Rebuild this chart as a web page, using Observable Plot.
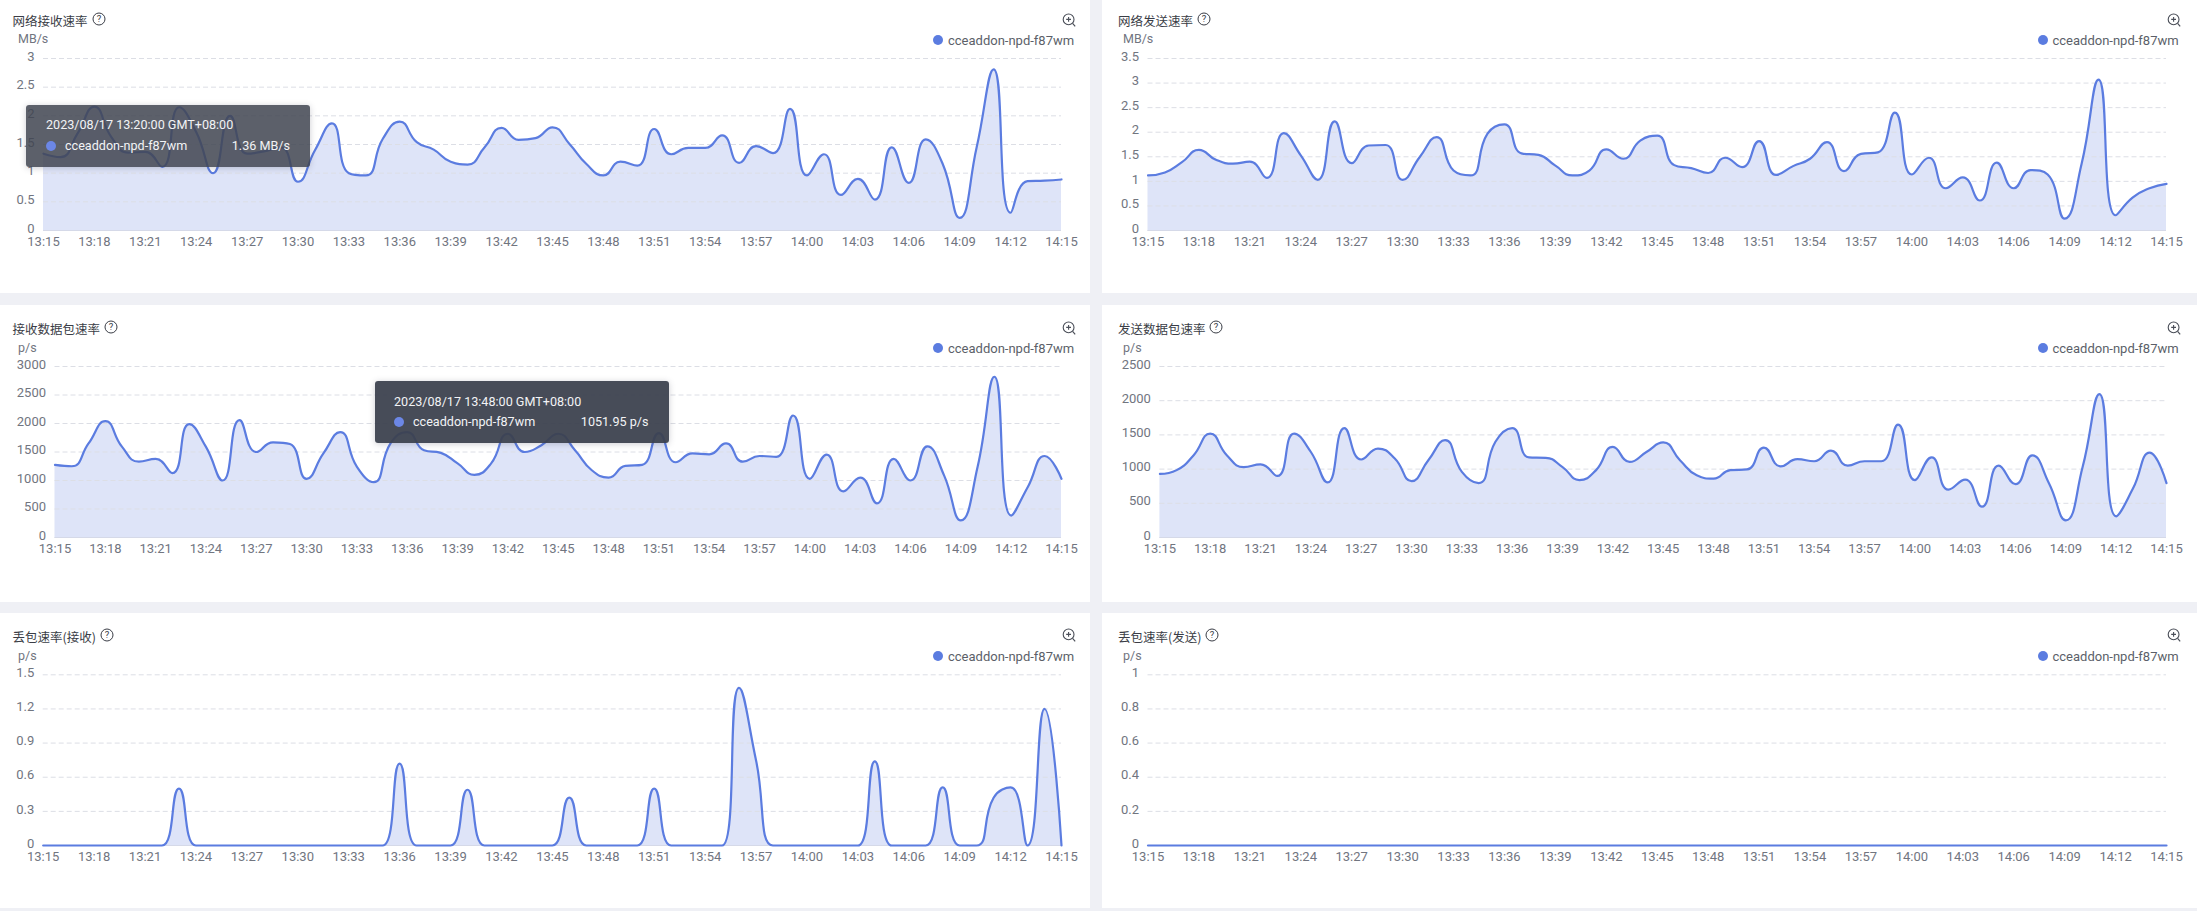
<!DOCTYPE html>
<html>
<head>
<meta charset="utf-8">
<script src="https://cdn.jsdelivr.net/npm/d3@7"></script>
<script src="https://cdn.jsdelivr.net/npm/@observablehq/plot@0.6"></script>
<style>
html,body{margin:0;padding:0;background:#eff0f5;width:2197px;height:911px;overflow:hidden;font-family:Roboto,"Noto Sans CJK SC",sans-serif}
#root{position:relative;width:2197px;height:911px}
.panel{position:absolute;background:#fff}
.panel svg.plot{position:absolute;left:0;top:0;display:block;background:transparent}
.abs{position:absolute;white-space:nowrap;line-height:1}
.title{font:12.5px "Noto Sans CJK SC",sans-serif;color:#3a3d46;transform:translateY(-50%)}
.unit{font:12.5px Roboto,sans-serif;color:#71757f;transform:translateY(-50%)}
.legend{font:13px Roboto,sans-serif;color:#5b5f69;transform:translateY(-50%)}
.dot{width:10px;height:10px;border-radius:50%;background:#5b7ce0;transform:translate(-50%,-50%)}
.tip{position:absolute;border-radius:3px;box-shadow:0 1px 6px rgba(60,60,80,.25);color:#f2f3f5;font:12.6px Roboto,sans-serif}
</style>
</head>
<body>
<div id="root"></div>
<script>
const minutesStart = "2023-08-17T13:15:00Z";
const minutesEnd = "2023-08-17T14:15:00Z";
const xTickLabels = ["13:15","13:18","13:21","13:24","13:27","13:30","13:33","13:36","13:39","13:42","13:45","13:48","13:51","13:54","13:57","14:00","14:03","14:06","14:09","14:12","14:15"];

const netIn = [1.34,1.28,1.69,2.16,1.63,1.36,1.37,1.11,2.15,1.72,1.0,2.0,1.34,1.38,1.45,0.85,1.4,1.87,1.0,0.96,1.6,1.9,1.54,1.41,1.2,1.15,1.45,1.79,1.58,1.61,1.8,1.51,1.16,0.96,1.2,1.13,1.77,1.33,1.44,1.44,1.66,1.18,1.47,1.35,2.12,0.96,1.33,0.62,0.9,0.54,1.45,0.83,1.59,1.16,0.22,1.45,2.81,0.31,0.86,0.87,0.89];
const netOut = [1.12,1.18,1.39,1.64,1.44,1.36,1.40,1.07,1.98,1.53,1.03,2.22,1.37,1.73,1.74,1.03,1.49,1.90,1.22,1.12,1.97,2.16,1.57,1.54,1.32,1.12,1.22,1.65,1.46,1.83,1.93,1.33,1.27,1.17,1.48,1.29,1.82,1.13,1.31,1.46,1.80,1.21,1.56,1.59,2.40,1.14,1.48,0.86,1.08,0.61,1.38,0.86,1.23,1.14,0.24,1.36,3.07,0.31,0.67,0.86,0.95];
const pktIn = [1275,1250,1650,2040,1590,1330,1380,1130,1990,1590,1000,2060,1500,1670,1640,1030,1475,1850,1240,970,1650,1850,1530,1485,1300,1100,1300,1820,1500,1620,1820,1530,1180,1052,1257,1275,1830,1320,1475,1460,1650,1330,1430,1415,2140,1030,1455,810,1050,600,1380,1000,1600,1090,300,1240,2820,385,890,1430,1030];
const pktOut = [930,985,1200,1520,1200,1030,1070,900,1520,1250,805,1600,1140,1300,1155,825,1130,1425,960,795,1400,1600,1170,1165,1030,840,985,1325,1105,1250,1390,1130,910,860,985,995,1315,1040,1145,1115,1270,1050,1115,1115,1650,840,1170,700,845,450,1050,780,1200,790,250,1030,2095,310,715,1240,795];
const dropIn = [0,0,0,0,0,0,0,0,0.5,0,0,0,0,0,0,0,0,0,0,0,0,0.72,0,0,0,0.49,0,0,0,0,0,0.42,0,0,0,0,0.5,0,0,0,0,1.385,0.75,0,0,0,0,0,0,0.74,0,0,0,0.51,0,0,0.42,0.51,0,1.2,0];
const dropOut = [0,0,0,0,0,0,0,0,0,0,0,0,0,0,0,0,0,0,0,0,0,0,0,0,0,0,0,0,0,0,0,0,0,0,0,0,0,0,0,0,0,0,0,0,0,0,0,0,0,0,0,0,0,0,0,0,0,0,0,0,0];

const ticksNetIn = [0,0.5,1,1.5,2,2.5,3];
const ticksNetOut = [0,0.5,1,1.5,2,2.5,3,3.5];
const ticksPktIn = [0,500,1000,1500,2000,2500,3000];
const ticksPktOut = [0,500,1000,1500,2000,2500];
const ticksDropIn = [0,0.3,0.6,0.9,1.2,1.5];
const ticksDropOut = [0,0.2,0.4,0.6,0.8,1];

const seriesName = "cceaddon-npd-f87wm";
const titles = ["网络接收速率","网络发送速率","接收数据包速率","发送数据包速率","丢包速率(接收)","丢包速率(发送)"];
const units = ["MB/s","MB/s","p/s","p/s","p/s","p/s"];

const times = d3.utcMinute.range(new Date(minutesStart), new Date(+new Date(minutesEnd) + 1));
const tickDates = xTickLabels.map(t => {
  const [h, m] = t.split(":");
  return new Date(Date.UTC(2023, 7, 17, +h, +m));
});

const lineColor = "#5b7ce0", areaColor = "#dee4f8", gridColor = "#dcdee5", labelColor = "#71757f";

// A d3-style curve: clamped tangents with control points at half the neighbour span,
// which gives the rounder humps of the source chart.
function roundedCurve(context) {
  let pts = [], line = NaN;
  const smooth = 0.5;
  const clamp = (v, a, b) => Math.max(Math.min(v, Math.max(a, b)), Math.min(a, b));
  return {
    areaStart() { line = 0; },
    areaEnd() { line = NaN; },
    lineStart() { pts = []; },
    point(x, y) { pts.push([+x, +y]); },
    lineEnd() {
      const n = pts.length;
      if (n) {
        if (line) context.lineTo(pts[0][0], pts[0][1]); else context.moveTo(pts[0][0], pts[0][1]);
        let c0 = pts[0];
        for (let i = 1; i < n; i++) {
          const [x, y] = pts[i], p = pts[i - 1];
          let cIn = pts[i], cOut = pts[i];
          if (i < n - 1) {
            const q = pts[i + 1];
            const lenA = Math.hypot(x - p[0], y - p[1]), lenB = Math.hypot(q[0] - x, q[1] - y);
            if (lenA > 0 && lenB > 0) {
              const r = lenB / (lenA + lenB);
              let vx = q[0] - p[0], vy = q[1] - p[1];
              let ox = clamp(x + vx * smooth * r, q[0], x), oy = clamp(y + vy * smooth * r, q[1], y);
              vx = ox - x; vy = oy - y;
              let ix = clamp(x - vx * lenA / lenB, p[0], x), iy = clamp(y - vy * lenA / lenB, p[1], y);
              vx = x - ix; vy = y - iy;
              ox = x + vx * lenB / lenA; oy = y + vy * lenB / lenA;
              cIn = [ix, iy]; cOut = [ox, oy];
            }
          }
          context.bezierCurveTo(c0[0], c0[1], cIn[0], cIn[1], x, y);
          c0 = cOut;
        }
      }
      if (line) context.closePath();
      line = 1 - line;
    }
  };
}

// layout: left, top, width, height of panel; plot left/right; grid top/bottom; text rows
const rowsLayout = [
  {top:0, height:293, gridTop:58, zero:230, titleY:20, unitY:38, legendY:40, iconY:19.5},
  {top:305, height:297, gridTop:366, zero:537, titleY:328, unitY:347, legendY:348, iconY:327.5},
  {top:613, height:295, gridTop:674.3, zero:845, titleY:636, unitY:655, legendY:656, iconY:635}
];
const colsLayout = [
  {left:0, width:1090, titleX:12.5, unitX:18, dotX:937.5, legendX:948, iconX:1069, plotRight:1061},
  {left:1102, width:1095, titleX:1118, unitX:1123, dotX:2042.7, legendX:2052.5, iconX:2174, plotRight:2166}
];
const charts = [
  {v:netIn, t:ticksNetIn, row:0, col:0, plotLeft:43, helpX:99, max:3},
  {v:netOut, t:ticksNetOut, row:0, col:1, plotLeft:1147.5, helpX:1203.5, max:3.5},
  {v:pktIn, t:ticksPktIn, row:1, col:0, plotLeft:54.5, helpX:110.5, max:3000},
  {v:pktOut, t:ticksPktOut, row:1, col:1, plotLeft:1159.4, helpX:1216, max:2500},
  {v:dropIn, t:ticksDropIn, row:2, col:0, plotLeft:42.7, helpX:107, max:1.5},
  {v:dropOut, t:ticksDropOut, row:2, col:1, plotLeft:1147.5, helpX:1212, max:1}
];

const root = document.getElementById("root");
function el(cls, x, y, text) {
  const d = document.createElement("div");
  d.className = cls;
  d.style.left = x + "px";
  d.style.top = y + "px";
  if (text != null) d.textContent = text;
  return d;
}
function icon(kind, cx, cy) {
  const ns = "http://www.w3.org/2000/svg";
  const s = document.createElementNS(ns, "svg");
  s.setAttribute("width", 18); s.setAttribute("height", 18);
  s.setAttribute("viewBox", "0 0 18 18");
  s.style.cssText = `position:absolute;left:${cx - 9}px;top:${cy - 9}px`;
  s.innerHTML = kind === "help"
    ? `<circle cx="9" cy="9" r="6" fill="none" stroke="#3a3d46" stroke-width="1"/><text x="9" y="12.2" text-anchor="middle" font-size="9.5" font-family="Roboto" fill="#3a3d46">?</text>`
    : `<circle cx="8.6" cy="8.4" r="5.4" fill="none" stroke="#4a4e58" stroke-width="1.1"/><path d="M8.6 6v4.8M6.2 8.4h4.8" stroke="#4a4e58" stroke-width="1.1"/><path d="M12.6 12.4l2.6 3" stroke="#4a4e58" stroke-width="1.2"/>`;
  return s;
}

charts.forEach((c, i) => {
  const R = rowsLayout[c.row], C = colsLayout[c.col];
  const panel = document.createElement("div");
  panel.className = "panel";
  panel.style.cssText = `left:${C.left}px;top:${R.top}px;width:${C.width}px;height:${R.height}px`;
  root.appendChild(panel);
  const data = times.map((d, k) => ({time: d, value: c.v[k]}));
  const svg = Plot.plot({
    width: C.width,
    height: R.height,
    marginLeft: c.plotLeft - C.left,
    marginRight: C.left + C.width - C.plotRight,
    marginTop: R.gridTop - R.top,
    marginBottom: R.top + R.height - R.zero,
    style: {background: "transparent", fontFamily: "Roboto, sans-serif", fontSize: "13px", overflow: "visible"},
    x: {type: "utc", domain: [new Date(minutesStart), new Date(minutesEnd)]},
    y: {domain: [0, c.max]},
    marks: [
      Plot.areaY(data, {x: "time", y: "value", curve: roundedCurve, fill: areaColor}),
      Plot.gridY(c.t, {stroke: gridColor, strokeOpacity: 1, strokeDasharray: "5 3", strokeWidth: 1}),
      Plot.ruleY([0], {stroke: "#d5d9e8", strokeWidth: 1}),
      Plot.lineY(data, {x: "time", y: "value", curve: roundedCurve, stroke: lineColor, strokeWidth: 2.2}),
      Plot.axisX({ticks: tickDates, tickSize: 0, tickPadding: 6, label: null, fill: labelColor, fontSize: 13,
        tickFormat: d => xTickLabels[tickDates.findIndex(t => +t === +d)]}),
      Plot.axisY({ticks: c.t, tickSize: 0, tickPadding: 9, label: null, fill: labelColor, fontSize: 13, dy: -2,
        tickFormat: d => String(d)})
    ]
  });
  svg.classList.add("plot");
  panel.appendChild(svg);
  root.appendChild(el("abs title", C.titleX, R.titleY, titles[i]));
  root.appendChild(el("abs unit", C.unitX, R.unitY, units[i]));
  root.appendChild(el("abs dot", C.dotX, R.legendY));
  root.appendChild(el("abs legend", C.legendX, R.legendY, seriesName));
  root.appendChild(icon("help", c.helpX, R.titleY - 1));
  root.appendChild(icon("zoom", C.iconX, R.iconY));
});

function tooltip(box, date, value, name) {
  const t = document.createElement("div");
  t.className = "tip";
  t.style.cssText = `left:${box.x}px;top:${box.y}px;width:${box.w}px;height:${box.h}px;background:${box.bg}`;
  const a = el("abs", box.tx, box.dy, date); a.style.transform = "translateY(-50%)";
  const d = el("abs dot", box.dx, box.ry); d.style.background = "#6c87e6";
  const n = el("abs", box.nx, box.ry, name); n.style.transform = "translateY(-50%)";
  const v = el("abs", 0, box.ry, value);
  v.style.left = "auto"; v.style.right = box.vr + "px"; v.style.transform = "translateY(-50%)";
  t.append(a, d, n, v);
  root.appendChild(t);
}
tooltip({x:26,y:105,w:284,h:62,bg:"rgba(65,70,82,.86)",tx:20,dy:20,dx:25,ry:41,nx:39,vr:20}, "2023/08/17 13:20:00 GMT+08:00", "1.36 MB/s", seriesName);
tooltip({x:375,y:381,w:293.5,h:62,bg:"rgba(60,65,78,.94)",tx:19,dy:21,dx:24,ry:41,nx:38,vr:20}, "2023/08/17 13:48:00 GMT+08:00", "1051.95 p/s", seriesName);
</script>
</body>
</html>
